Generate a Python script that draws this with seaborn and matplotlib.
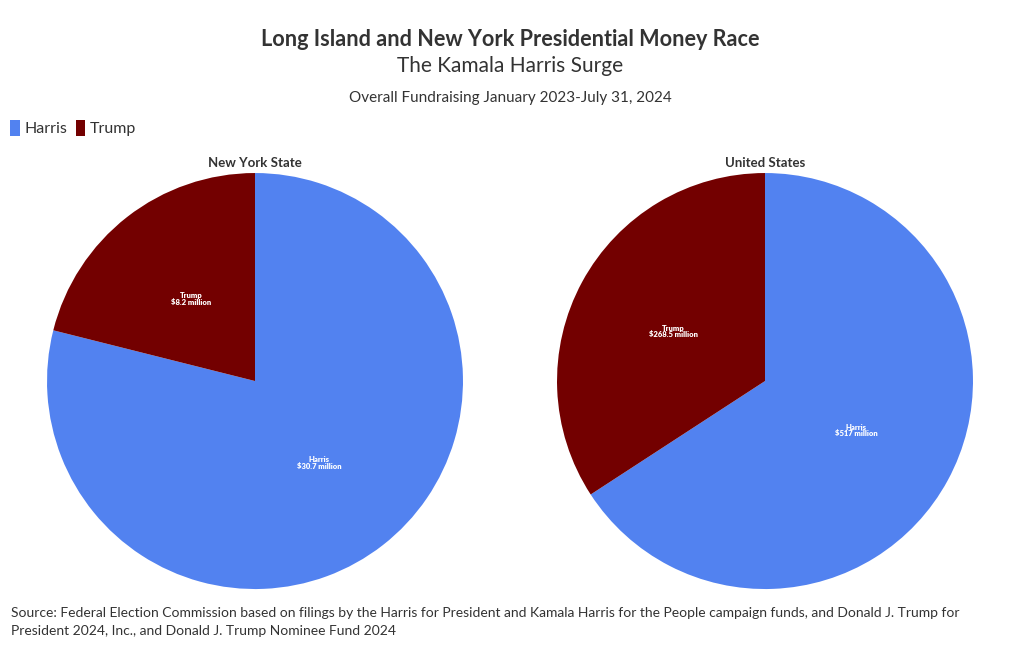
"""Long Island and New York presidential money race, as two pies."""
import matplotlib
matplotlib.use('Agg')
import matplotlib.pyplot as plt
from matplotlib.patches import Patch
import seaborn as sns

candidates = ['Harris', 'Trump']
colors = ['#5282F0', '#730000']
regions = ['New York State', 'United States']
ny_raised = [30.7, 8.2]      # millions of dollars
us_raised = [517, 268.5]
ny_labels = ['Harris\n$30.7 million', 'Trump\n$8.2 million']
us_labels = ['Harris\n$517 million', 'Trump\n$268.5 million']

sns.set_theme(style='white')
plt.rcParams['font.family'] = ['Lato', 'DejaVu Sans']
text_color = '#333333'

fig = plt.figure(figsize=(10.2, 6.5), dpi=100)

fig.text(0.5, 0.940, 'Long Island and New York Presidential Money Race',
         ha='center', va='center', fontsize=15.6, fontweight='bold', color=text_color)
fig.text(0.5, 0.899, 'The Kamala Harris Surge',
         ha='center', va='center', fontsize=15, color=text_color)
fig.text(0.5, 0.849, 'Overall Fundraising January 2023-July 31, 2024',
         ha='center', va='center', fontsize=11, color=text_color)

boxes = [[0.0461, 0.0938, 0.4078, 0.64], [0.5461, 0.0938, 0.4078, 0.64]]
for box, region, values, labels in zip(boxes, regions,
                                       [ny_raised, us_raised],
                                       [ny_labels, us_labels]):
    ax = fig.add_axes(box)
    wedges, texts = ax.pie(values, labels=labels, colors=colors, startangle=90,
                           counterclock=False, labeldistance=0.5,
                           wedgeprops={'linewidth': 0},
                           textprops={'color': 'white', 'fontsize': 5.5,
                                      'fontweight': 'heavy'})
    for t in texts:
        t.set_ha('center')
        t.set_va('center')
        t.set_multialignment('center')
        t.set_linespacing(0.85)
    ax.set_xlim(-1, 1)
    ax.set_ylim(-1, 1)
    ax.set_aspect('auto')
    ax.axis('off')
    cx = box[0] + box[2] / 2
    fig.text(cx, 0.749, region, ha='center', va='center', fontsize=9.5,
             fontweight='bold', color=text_color)

handles = [Patch(facecolor=c, edgecolor='none', label=n) for c, n in zip(colors, candidates)]
fig.legend(handles=handles, loc='center left', bbox_to_anchor=(-0.004, 0.803),
           ncol=2, frameon=False, fontsize=11.5, handlelength=0.6, handleheight=1.2,
           handletextpad=0.3, columnspacing=0.5, labelcolor=text_color)

fig.text(0.011, 0.0425,
         'Source: Federal Election Commission based on filings by the Harris for President '
         'and Kamala Harris for the People campaign funds, and Donald J. Trump for\n'
         'President 2024, Inc., and Donald J. Trump Nominee Fund 2024',
         ha='left', va='center', fontsize=10, color=text_color, linespacing=1.6)

fig.savefig('out.png', dpi=100)
